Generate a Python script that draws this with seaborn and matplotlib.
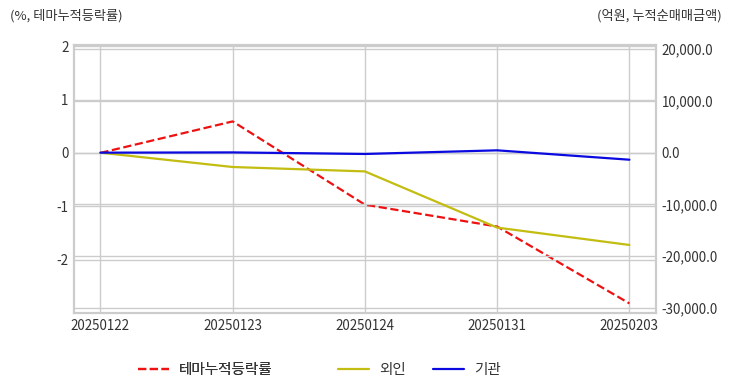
import numpy as np
import pandas as pd
import seaborn as sns
import matplotlib.pyplot as plt
from matplotlib.ticker import FuncFormatter

sns.set_style("white")
plt.rcParams['font.family'] = ['Noto Sans CJK KR', 'DejaVu Sans']
plt.rcParams['axes.unicode_minus'] = False

dates = ["20250122", "20250123", "20250124", "20250131", "20250203"]
theme_rate = [0.0, 0.59, -0.97, -1.38, -2.82]       # %, left axis
foreign = [0.0, -2770.0, -3620.0, -14470.0, -17830.0]  # 억원, right axis
inst = [0.0, 50.0, -250.0, 450.0, -1360.0]

df = pd.DataFrame({"date": dates, "theme": theme_rate, "foreign": foreign, "inst": inst})
df["x"] = np.arange(len(dates))

fig = plt.figure(figsize=(7.32, 3.92), dpi=100)
ax = fig.add_axes([0.101, 0.2015, 0.795, 0.6835])
ax2 = ax.twinx()

grid_c = "#cccccc"
txt_c = "#333333"

sns.lineplot(data=df, x="x", y="theme", ax=ax, color="#ee1111", linestyle="--",
             linewidth=1.6, label="테마누적등락률", legend=False)
sns.lineplot(data=df, x="x", y="foreign", ax=ax2, color="#c2bd10",
             linewidth=1.6, label="외인", legend=False)
sns.lineplot(data=df, x="x", y="inst", ax=ax2, color="#0a0ae0",
             linewidth=1.6, label="기관", legend=False)

ax.set_xlim(-0.2, 4.2)
ax.set_ylim(-3.0, 2.02)
ax.set_yticks([-2, -1, 0, 1, 2])
ax2.set_ylim(-30970, 20780)
ax2.set_yticks([-30000, -20000, -10000, 0, 10000, 20000])
ax2.yaxis.set_major_formatter(FuncFormatter(lambda v, p: f"{v:,.1f}"))
ax.set_xticks(df["x"])
ax.set_xticklabels(dates)

ax.grid(True, color=grid_c, linewidth=1)
ax2.grid(True, axis="y", color=grid_c, linewidth=1)
ax.set_axisbelow(True)

for a in (ax, ax2):
    a.set_xlabel("")
    a.set_ylabel("")
    for s in a.spines.values():
        s.set_color(grid_c)
        s.set_linewidth(1.5)
    a.tick_params(colors=txt_c, labelsize=9.6, length=0, pad=4)

fig.text(10 / 732, 1 - 16 / 392, "(%, 테마누적등락률)", fontsize=9.5, color=txt_c, va="center", ha="left")
fig.text(722 / 732, 1 - 16 / 392, "(억원, 누적순매매금액)", fontsize=9.5, color=txt_c, va="center", ha="right")

h1, l1 = ax.get_legend_handles_labels()
h2, l2 = ax2.get_legend_handles_labels()
leg_kw = dict(frameon=False, fontsize=10.5, handlelength=2.1, handletextpad=0.7,
              labelcolor=txt_c, borderpad=0, borderaxespad=0)
leg1 = fig.legend(h1, l1, loc="center left", bbox_to_anchor=(138 / 732, 1 - 370 / 392), **leg_kw)
fig.add_artist(leg1)
fig.legend(h2, l2, loc="center left", bbox_to_anchor=(338 / 732, 1 - 370 / 392), ncol=2,
           columnspacing=1.9, **leg_kw)

fig.savefig("out.png", dpi=100)
